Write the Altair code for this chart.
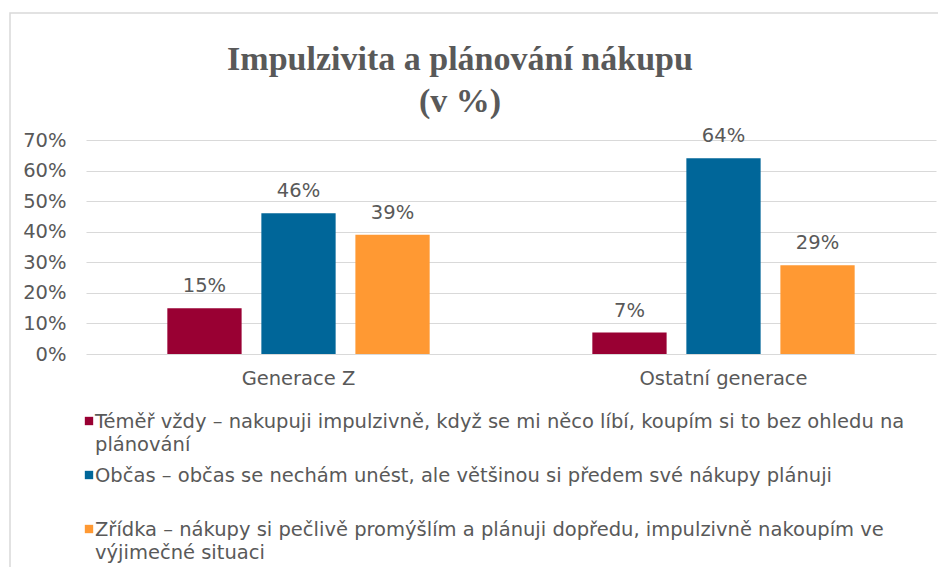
import altair as alt
import pandas as pd

categories = ["Generace Z", "Ostatní generace"]
series = [
    "Téměř vždy – nakupuji impulzivně, když se mi něco líbí, koupím si to bez ohledu na\nplánování",
    "Občas – občas se nechám unést, ale většinou si předem své nákupy plánuji",
    "Zřídka – nákupy si pečlivě promýšlím a plánuji dopředu, impulzivně nakoupím ve\nvýjimečné situaci",
]
values_temer_vzdy = [15, 7]
values_obcas = [46, 64]
values_zridka = [39, 29]
colors = ["#990033", "#006699", "#FF9933"]
y_ticks = [0, 10, 20, 30, 40, 50, 60, 70]

rows = []
for s, vals in zip(series, [values_temer_vzdy, values_obcas, values_zridka]):
    for c, v in zip(categories, vals):
        rows.append({"category": c, "series": s, "value": v})
df = pd.DataFrame(rows)
legend_df = pd.DataFrame({"series": series})
frame_df = pd.DataFrame({"k": [0]})

TXT = "#595959"
FONT = "DejaVu Sans"
FS = 19.5

color = alt.Color("series:N", sort=series,
                  scale=alt.Scale(domain=series, range=colors), legend=None)
x = alt.X("category:N", sort=categories,
          scale=alt.Scale(paddingInner=0, paddingOuter=0),
          axis=alt.Axis(title=None, labelAngle=0, domain=False, ticks=False,
                        labelPadding=15, labelFontSize=FS, labelColor=TXT,
                        labelFont=FONT))
xo = alt.XOffset("series:N", sort=series,
                 scale=alt.Scale(paddingInner=0.21, paddingOuter=0.865))
y = alt.Y("value:Q", scale=alt.Scale(domain=[0, 70]),
          axis=alt.Axis(title=None, values=y_ticks, labelExpr="datum.value + '%'",
                        domain=False, ticks=False, gridColor="#d9d9d9",
                        labelPadding=20, labelFontSize=FS, labelColor=TXT,
                        labelFont=FONT))

bars = alt.Chart(df).mark_bar().encode(x=x, xOffset=xo, y=y, color=color)

labels = alt.Chart(df).transform_calculate(
    label="datum.value + '%'"
).mark_text(baseline="alphabetic", dy=-16, fontSize=FS, color=TXT, font=FONT).encode(
    x=x, xOffset=xo,
    y=alt.Y("value:Q", scale=alt.Scale(domain=[0, 70]), axis=None),
    text="label:N",
)

ly = alt.Y("series:N", sort=series,
           scale=alt.Scale(type="point", range=[281, 389], padding=0), axis=None)
leg_sym = alt.Chart(legend_df).mark_square(size=70, opacity=1).encode(
    x=alt.value(3), y=ly, color=color)
leg_txt = alt.Chart(legend_df).mark_text(
    align="left", baseline="alphabetic", dy=7, lineBreak="\n", lineHeight=23,
    fontSize=FS, color=TXT, font=FONT
).encode(x=alt.value(9), y=ly, text="series:N")

frame = alt.Chart(frame_df).mark_rect(fill=None, stroke="#d9d9d9", strokeWidth=1.5).encode(
    x=alt.value(-76), x2=alt.value(900), y=alt.value(-127), y2=alt.value(600))

chart = alt.layer(frame, bars, labels, leg_sym, leg_txt).resolve_scale(
    y="independent"
).properties(
    width=850, height=214,
    autosize=alt.AutoSizeParams(type="none"),
    padding={"left": 78, "top": 132, "right": 2, "bottom": 213},
    title=alt.Title(["Impulzivita a plánování nákupu", "(v %)"], anchor="middle",
                    frame="group", dx=-51, offset=-107, lineHeight=42,
                    font="Liberation Serif", fontSize=34, fontWeight="bold",
                    color=TXT),
).configure_view(stroke=None)

chart.save("out.html", embed_options={"renderer": "svg", "actions": False})
